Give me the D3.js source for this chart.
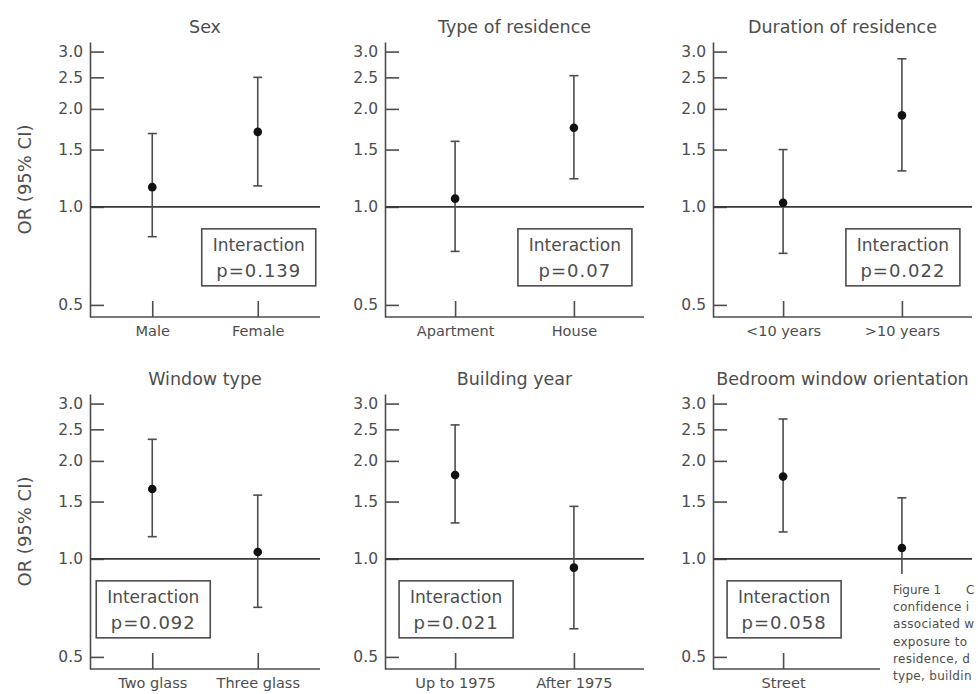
<!DOCTYPE html>
<html><head><meta charset="utf-8">
<script src="https://cdn.jsdelivr.net/npm/d3@7"></script>
<style>
body{margin:0;background:#fff;}
svg{display:block;}
text{font-family:"DejaVu Sans",sans-serif;fill:#4d4d4d;}
</style></head><body>
<svg id="chart" width="978" height="694"></svg>
<script>
// ---- data ----
const titles = ["Sex", "Type of residence", "Duration of residence", "Window type", "Building year", "Bedroom window orientation"];
const categories = [["Male", "Female"], ["Apartment", "House"], ["<10 years", ">10 years"], ["Two glass", "Three glass"], ["Up to 1975", "After 1975"], ["Street", "Courtyard"]];
const estimates = [[1.15, 1.70], [1.06, 1.75], [1.03, 1.91], [1.64, 1.05], [1.81, 0.94], [1.79, 1.08]];
const lowerCI = [[0.81, 1.16], [0.73, 1.22], [0.72, 1.29], [1.17, 0.71], [1.29, 0.61], [1.21, 0.74]];
const upperCI = [[1.68, 2.50], [1.59, 2.53], [1.50, 2.85], [2.33, 1.57], [2.58, 1.45], [2.69, 1.54]];
const pValues = ["0.139", "0.07", "0.022", "0.092", "0.021", "0.058"];
const yTicks = [0.5, 1.0, 1.5, 2.0, 2.5, 3.0];
const refValue = 1.0;
const yAxisLabel = "OR (95% CI)";
const captionLabel = "Figure 1";
const captionLines = ["C", "confidence i", "associated w", "exposure to", "residence, d", "type, buildin"];

// ---- layout ----
const colLeft = [90, 385, 713];
const colRight = [320, 644, 972];
const rowTop = [42, 394];
const rowBottom = [317, 669];
const boxCat = [1, 1, 1, 0, 0, 0];
const boxCenterValue = 0.70;
const ink = "#4d4d4d";
const font = '"DejaVu Sans",sans-serif';

const svg = d3.select("#chart");

titles.forEach((title, i) => {
  const r = Math.floor(i / 3), c = i % 3;
  const x0 = colLeft[c], x1 = colRight[c], y0 = rowTop[r], y1 = rowBottom[r];
  const y = d3.scaleLog().domain([0.459, 3.21]).range([y1, y0]);
  const x = d3.scalePoint().domain(categories[i]).range([x0, x1]).padding(0.59);
  const g = svg.append("g");

  // y axis
  const ya = g.append("g").attr("transform", `translate(${x0},0)`)
    .call(d3.axisLeft(y).tickValues(yTicks).tickFormat(d3.format(".1f"))
      .tickSizeInner(-14).tickSizeOuter(0).tickPadding(7));
  ya.selectAll("path,line").attr("stroke", ink).attr("stroke-width", 1.6);
  ya.selectAll("text").attr("font-size", 15.5).attr("fill", ink).style("font-family", font);

  // x axis
  const xa = g.append("g").attr("transform", `translate(0,${y1})`)
    .call(d3.axisBottom(x).tickSizeInner(-16).tickSizeOuter(0).tickPadding(9));
  xa.select(".domain").attr("d", `M${x0},0H${x1}`);
  xa.selectAll("path,line").attr("stroke", ink).attr("stroke-width", 1.6);
  xa.selectAll("text").attr("font-size", 14.5).attr("fill", ink).style("font-family", font);
  // the reference hides the last label of the final panel under the caption
  if (i === titles.length - 1) {
    xa.selectAll(".tick").filter(d => d === categories[i][1]).select("text").remove();
  }

  // reference line
  g.append("line").attr("x1", x0).attr("x2", x1).attr("y1", y(refValue)).attr("y2", y(refValue))
    .attr("stroke", "#3a3a3a").attr("stroke-width", 1.8);

  // title
  g.append("text").attr("x", (x0 + x1) / 2).attr("y", y0 - 9).attr("text-anchor", "middle")
    .attr("font-size", 17.5).text(title);

  // error bars
  categories[i].forEach((cat, k) => {
    const cx = x(cat);
    g.append("line").attr("x1", cx).attr("x2", cx).attr("y1", y(lowerCI[i][k])).attr("y2", y(upperCI[i][k]))
      .attr("stroke", ink).attr("stroke-width", 1.6);
    [lowerCI[i][k], upperCI[i][k]].forEach(v => {
      g.append("line").attr("x1", cx - 4.5).attr("x2", cx + 4.5).attr("y1", y(v)).attr("y2", y(v))
        .attr("stroke", ink).attr("stroke-width", 1.6);
    });
    g.append("circle").attr("cx", cx).attr("cy", y(estimates[i][k])).attr("r", 4.3).attr("fill", "#111");
  });

  // interaction box
  const bx = x(categories[i][boxCat[i]]) + 1, by = y(boxCenterValue);
  g.append("rect").attr("x", bx - 57).attr("y", by - 28.5).attr("width", 114).attr("height", 57)
    .attr("fill", "#fff").attr("stroke", ink).attr("stroke-width", 1.6);
  g.append("text").attr("x", bx).attr("y", by - 12).attr("text-anchor", "middle").attr("dominant-baseline", "central")
    .attr("font-size", 17).text("Interaction");
  g.append("text").attr("x", bx).attr("y", by + 13).attr("text-anchor", "middle").attr("dominant-baseline", "central")
    .attr("font-size", 18).attr("letter-spacing", 1).text("p=" + pValues[i]);

  // y axis label on first column
  if (c === 0) {
    g.append("text").attr("transform", `translate(24,${(y0 + y1) / 2}) rotate(-90)`)
      .attr("text-anchor", "middle").attr("dominant-baseline", "central").attr("font-size", 18).text(yAxisLabel);
  }
});

// caption block covering bottom-right corner
svg.append("rect").attr("x", 880).attr("y", 574).attr("width", 98).attr("height", 120).attr("fill", "#fff");
const capX = 893, capY = 594, capStep = 17.2, capSize = 12;
svg.append("text").attr("x", capX).attr("y", capY).attr("font-size", capSize).text(captionLabel);
svg.append("text").attr("x", 966).attr("y", capY).attr("font-size", capSize).text(captionLines[0]);
captionLines.slice(1).forEach((t, j) => {
  svg.append("text").attr("x", capX).attr("y", capY + (j + 1) * capStep).attr("font-size", capSize)
    .attr("letter-spacing", 0.3).text(t);
});
</script>
</body></html>
